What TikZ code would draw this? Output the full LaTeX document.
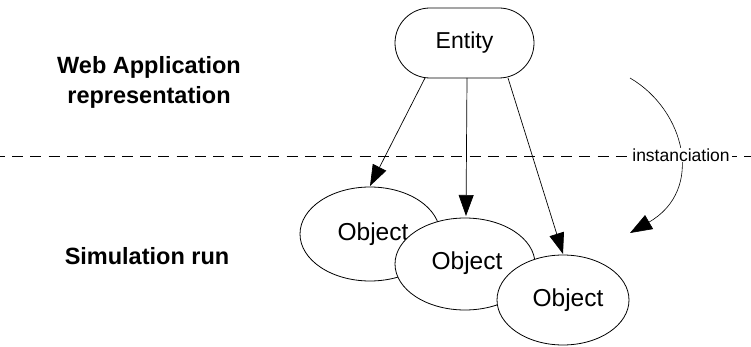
\documentclass[tikz,border=0pt]{standalone}
\usepackage{fontspec}
\setmainfont{Liberation Sans}
\usetikzlibrary{arrows.meta,shapes.geometric}
\tikzset{
  sizefont/.style={font=\fontsize{#1}{#1}\selectfont},
  heading/.style={font=\bfseries\fontsize{23.5}{30}\selectfont, align=center},
  entitybox/.style={draw, line width=0.8pt, rounded corners=35pt, minimum width=139pt, minimum height=70pt, sizefont=23},
  objectnode/.style={draw, fill=white, ellipse, line width=0.8pt, inner sep=0pt},
  link/.style={line width=0.7pt, -{Triangle[length=21pt,width=15pt]}},
  divider/.style={line width=0.8pt, dash pattern=on 11pt off 7.3pt, dash phase=-12pt},
}
\begin{document}
\begin{tikzpicture}[x=1pt,y=-1pt]
  \useasboundingbox (0,0) rectangle (751,347);

  % section titles
  \node[heading] (webapp) at (149,82) {Web Application\\representation};
  \node[heading] (simrun) at (147,256) {Simulation run};

  % boundary between the two levels
  \coordinate (lineL) at (0,156);
  \coordinate (lineR) at (751,156);
  \draw[divider] (lineL) -- (lineR);

  % the entity and its instances
  \node[entitybox] (entity) at (464.5,43) {Entity};

  \node[objectnode, minimum width=140pt, minimum height=94pt] (obj1) at (370,234) {};
  \node[sizefont=24.5] (obj1txt) at (373,234) {Object};
  \node[objectnode, minimum width=140pt, minimum height=92pt] (obj2) at (465,264) {};
  \node[sizefont=24.5] (obj2txt) at (467,263) {Object};
  \node[objectnode, minimum width=132pt, minimum height=90pt] (obj3) at (563,300) {};
  \node[sizefont=24.5] (obj3txt) at (568,300) {Object};

  % instantiation links
  \coordinate (e1) at (425,78);
  \coordinate (e2) at (467,78);
  \coordinate (e3) at (508,78);
  \coordinate (t1) at (370,186);
  \coordinate (t2) at (466,216);
  \coordinate (t3) at (563,254);
  \draw[link] (e1) -- (t1);
  \draw[link] (e2) -- (t2);
  \draw[link] (e3) -- (t3);

  % curved arrow across the boundary
  \coordinate (cs) at (630,78);
  \coordinate (ce) at (630,233);
  \draw[line width=0.6pt, -{Triangle[length=22pt,width=16pt]}]
    (cs) .. controls (685,110) and (705,190) .. (ce);

  % label sitting on the boundary line
  \node[fill=white, inner xsep=2pt, inner ysep=1pt, sizefont=17.5] (inst) at (681,155) {instanciation};
\end{tikzpicture}
\end{document}
